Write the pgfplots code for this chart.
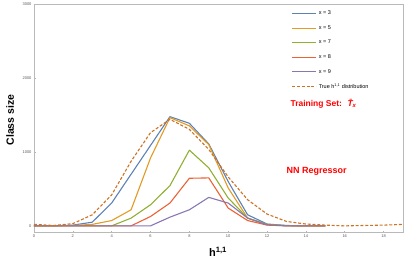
\documentclass[border=0pt]{standalone}
\usepackage{pgfplots}
\pgfplotsset{compat=1.18}
\usepackage{fontspec}
\setmainfont{Liberation Sans}
\definecolor{cblue}{rgb}{0.368,0.507,0.710}
\definecolor{corange}{rgb}{0.881,0.611,0.142}
\definecolor{cgreen}{rgb}{0.560,0.692,0.195}
\definecolor{cred}{rgb}{0.923,0.386,0.209}
\definecolor{cpurple}{rgb}{0.528,0.471,0.701}
\definecolor{cdash}{rgb}{0.80,0.45,0.15}
\begin{document}
\begin{tikzpicture}
\path[use as bounding box] (0pt,0pt) rectangle (407pt,263pt);
\begin{axis}[
  at={(34pt,30.5pt)}, anchor=south west,
  scale only axis, width=369pt, height=228pt,
  xmin=0, xmax=19, ymin=-90, ymax=3000,
  xtick={0,2,...,18}, ytick={0,1000,2000,3000},
  axis line style={gray!55, line width=0.6pt},
  tick style={gray!60, line width=0.5pt},
  major tick length=2pt,
  tick align=inside,
  xtick pos=bottom, ytick pos=left,
  /pgf/number format/assume math mode=true,
  /pgf/number format/1000 sep={},
  ticklabel style={font=\fontsize{4}{5}\selectfont, text=gray!70!black},
  xticklabel style={yshift=1pt},
  yticklabel style={xshift=1pt},
  legend style={at={(rel axis cs:0.695,0.985)}, anchor=north west, draw=none, fill=none,
    font=\fontsize{5.5}{6}\selectfont, row sep=5.2pt, inner sep=1pt},
  legend cell align=left,
  legend image code/.code={\draw[#1] (0pt,0pt) -- (24pt,0pt);},
  every axis plot/.append style={line width=1.1pt, line join=round},
]
\addplot[cblue] coordinates {(0,0)(1,0)(2,10)(3,50)(4,310)(5,700)(6,1090)(7,1480)(8,1390)(9,1110)(10,600)(11,150)(12,25)(13,5)(14,0)(15,0)};
\addlegendentry{x = 3}
\addplot[corange] coordinates {(0,0)(1,0)(2,5)(3,20)(4,72)(5,218)(6,920)(7,1467)(8,1355)(9,1100)(10,513)(11,105)(12,15)(13,3)(14,0)(15,0)};
\addlegendentry{x = 5}
\addplot[cgreen] coordinates {(0,0)(1,0)(2,0)(3,0)(4,0)(5,105)(6,286)(7,545)(8,1026)(9,786)(10,377)(11,105)(12,20)(13,3)(14,0)(15,0)};
\addlegendentry{x = 7}
\addplot[cred] coordinates {(0,0)(1,0)(2,0)(3,0)(4,0)(5,0)(6,127)(7,309)(8,645)(9,650)(10,241)(11,72)(12,10)(13,0)(14,0)(15,0)};
\addlegendentry{x = 8}
\addplot[cpurple] coordinates {(0,0)(1,0)(2,0)(3,0)(4,0)(5,0)(6,0)(7,118)(8,218)(9,386)(10,309)(11,105)(12,15)(13,0)(14,0)(15,0)};
\addlegendentry{x = 9}
\addplot[cdash, dash pattern=on 3pt off 1.8pt] coordinates {(0,20)(1,5)(2,30)(3,150)(4,420)(5,876)(6,1263)(7,1444)(8,1308)(9,1035)(10,663)(11,354)(12,160)(13,60)(14,25)(15,10)(16,0)(17,5)(18,10)(19,20)};
\addlegendentry{True h\textsuperscript{1,1} distribution}
\node[anchor=west, text=red, font=\fontsize{8.5}{10}\selectfont\bfseries, inner sep=0pt] at (axis cs:13.2,1658) {Training Set:~ {\itshape\={T}\textsubscript{x}}};
\node[anchor=west, text=red, font=\fontsize{9}{10}\selectfont\bfseries, inner sep=0pt] at (axis cs:13.0,732) {NN Regressor};
\end{axis}
\node[rotate=90, font=\fontsize{10.5}{12}\selectfont\bfseries] at (10pt,143pt) {Class size};
\node[font=\fontsize{11}{12}\selectfont\bfseries] at (218pt,11pt) {h\textsuperscript{1,1}};
\end{tikzpicture}
\end{document}
